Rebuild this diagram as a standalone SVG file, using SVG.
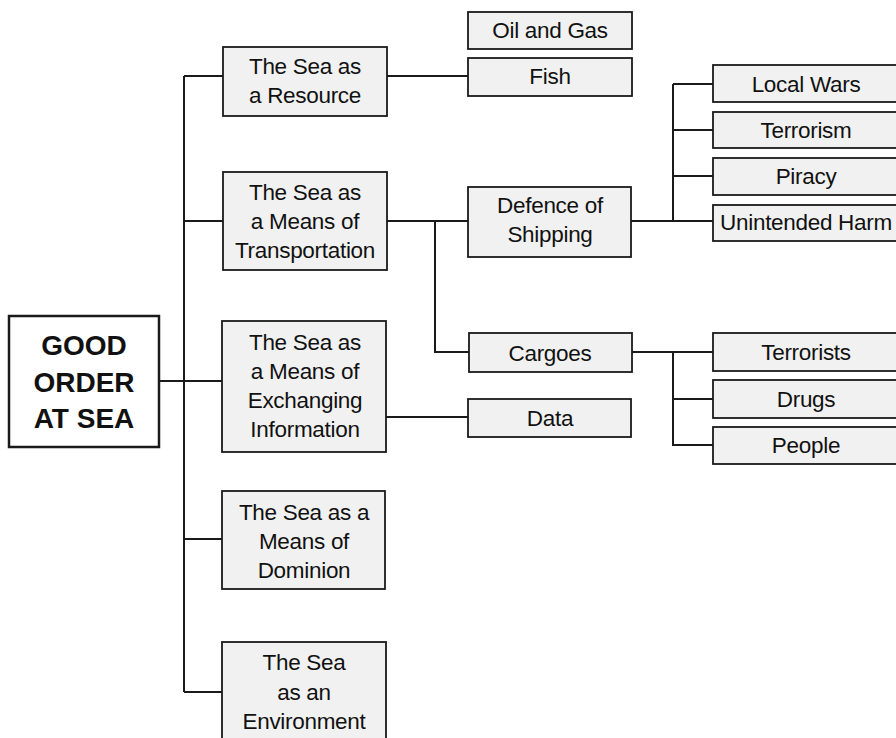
<svg xmlns="http://www.w3.org/2000/svg" width="896" height="738" viewBox="0 0 896 738">
<defs>
<style>
.box{fill:#f1f1f1;stroke:#1a1a1a;stroke-width:1.8}
.main{fill:#fff;stroke:#1a1a1a;stroke-width:2.5}
.t{font-family:"Liberation Sans",Arial,sans-serif;font-size:22.5px;fill:#111;text-anchor:middle;letter-spacing:-0.3px}
.b{font-family:"Liberation Sans",Arial,sans-serif;font-size:28px;font-weight:bold;fill:#111;text-anchor:middle}
.c{fill:none;stroke:#1a1a1a;stroke-width:2}
</style>
</defs>
<rect width="896" height="738" fill="#fff"/>
<g id="connectors" class="c">
<path d="M184 76V692M184 76H223M184 221H223M184 539H223M184 692H223M159 381H222"/>
<path d="M387 76H468M387 221H468M435 221V352H469M386 417H468"/>
<path d="M631 221H713M673 84V221M673 84H713M673 130H713M673 176H713"/>
<path d="M632 352H713M673 352V445H713M673 399H713"/>
</g>
<g id="good-order">
<rect class="main" x="9" y="316" width="150" height="131"/>
<text class="b" x="84" y="355">GOOD</text>
<text class="b" x="84" y="392">ORDER</text>
<text class="b" x="84" y="428">AT SEA</text>
</g>
<g id="resource">
<rect class="box" x="223" y="47" width="164" height="69"/>
<text class="t" x="305" y="74">The Sea as</text>
<text class="t" x="305" y="103">a Resource</text>
</g>
<g id="transportation">
<rect class="box" x="223" y="172" width="164" height="98"/>
<text class="t" x="305" y="200">The Sea as</text>
<text class="t" x="305" y="229">a Means of</text>
<text class="t" x="305" y="258">Transportation</text>
</g>
<g id="exchanging">
<rect class="box" x="222" y="321" width="164" height="131"/>
<text class="t" x="305" y="350">The Sea as</text>
<text class="t" x="305" y="379">a Means of</text>
<text class="t" x="305" y="408">Exchanging</text>
<text class="t" x="305" y="437">Information</text>
</g>
<g id="dominion">
<rect class="box" x="222" y="491" width="163" height="98"/>
<text class="t" x="304" y="520">The Sea as a</text>
<text class="t" x="304" y="549">Means of</text>
<text class="t" x="304" y="578">Dominion</text>
</g>
<g id="environment">
<rect class="box" x="222" y="642" width="164" height="110"/>
<text class="t" x="304" y="670">The Sea</text>
<text class="t" x="304" y="700">as an</text>
<text class="t" x="304" y="729">Environment</text>
</g>
<g id="oil-gas">
<rect class="box" x="468" y="12" width="164" height="37"/>
<text class="t" x="550" y="38">Oil and Gas</text>
</g>
<g id="fish">
<rect class="box" x="468" y="58" width="164" height="38"/>
<text class="t" x="550" y="84">Fish</text>
</g>
<g id="defence">
<rect class="box" x="468" y="187" width="163" height="70"/>
<text class="t" x="550" y="213">Defence of</text>
<text class="t" x="550" y="242">Shipping</text>
</g>
<g id="cargoes">
<rect class="box" x="469" y="333" width="163" height="39"/>
<text class="t" x="550" y="361">Cargoes</text>
</g>
<g id="data">
<rect class="box" x="468" y="399" width="163" height="38"/>
<text class="t" x="550" y="426">Data</text>
</g>
<g id="local-wars">
<rect class="box" x="713" y="65" width="188" height="37"/>
<text class="t" x="806" y="92">Local Wars</text>
</g>
<g id="terrorism">
<rect class="box" x="713" y="112" width="188" height="36"/>
<text class="t" x="806" y="138">Terrorism</text>
</g>
<g id="piracy">
<rect class="box" x="713" y="158" width="188" height="37"/>
<text class="t" x="806" y="184">Piracy</text>
</g>
<g id="unintended-harm">
<rect class="box" x="713" y="205" width="188" height="36"/>
<text class="t" x="806" y="230">Unintended Harm</text>
</g>
<g id="terrorists">
<rect class="box" x="713" y="333" width="188" height="38"/>
<text class="t" x="806" y="360">Terrorists</text>
</g>
<g id="drugs">
<rect class="box" x="713" y="380" width="188" height="38"/>
<text class="t" x="806" y="407">Drugs</text>
</g>
<g id="people">
<rect class="box" x="713" y="427" width="188" height="37"/>
<text class="t" x="806" y="453">People</text>
</g>
</svg>
